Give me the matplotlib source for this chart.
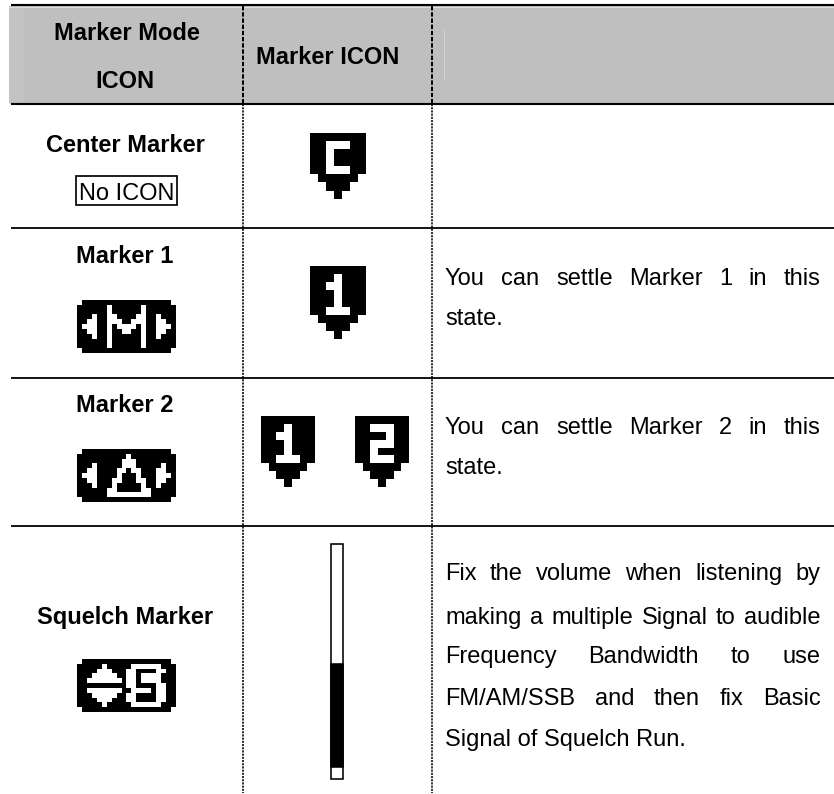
import matplotlib
matplotlib.use("Agg")
import matplotlib.pyplot as plt
from matplotlib.patches import Rectangle
import numpy as np

W, H = 834, 794
BODY_SIZE = 17.0
BOLD_SIZE = 17.0
FONT = "Liberation Sans"

# ---- table layout values ----
header_rows = [5, 104]
row_rules = [228, 378, 526]
col_rules = [243, 432]
header_texts = [("Marker Mode", 127, 40), ("ICON", 125, 88), ("Marker ICON", 327.5, 64)]
mode_titles = [("Center Marker", 125, 152), ("Marker 1", 125, 263),
               ("Marker 2", 125, 412), ("Squelch Marker", 125.5, 624)]
no_icon = "No ICON"
body_paragraphs = [
    (["You can settle Marker 1 in this", "state."], [285, 325]),
    (["You can settle Marker 2 in this", "state."], [434, 474]),
    (["Fix the volume when listening by",
      "making a multiple Signal to audible",
      "Frequency Bandwidth to use",
      "FM/AM/SSB and then fix Basic",
      "Signal of Squelch Run."], [580, 624, 663, 705, 746]),
]

# ---- pixel icons ----
pin_c = ["#######", "##...##", "##.####", "##.####", "##...##", " ##### ", "  ###  ", "   #   "]
pin_1 = ["#######", "###.###", "##..###", "###.###", "###.###", "##...##", " ##### ", "  ###  ", "   #   "]
pin_2 = ["#######", "##...##", "####.##", "##...##", "##.####", "##...##", " ##### ", "  ###  ", "   #   "]
mode_m = [" ################## ",
          "######.######.######",
          "######.######.######",
          "###.##..####..##.###",
          "##..##...##...##..##",
          "#...##.#....#.##...#",
          "##..##.##..##.##..##",
          "###.##.######.##.###",
          "######.######.######",
          "######.######.######",
          " ################## "]
mode_d = [" ################## ",
          "##########.#########",
          "#########...########",
          "###.#####...#####.##",
          "##..####..#..###..##",
          "#...####.###.###...#",
          "##..###..###..##..##",
          "###.###.#####.##.###",
          "######..#####..#####",
          "######.........#####",
          " ################## "]
mode_s = [" ################## ",
          "#####.#####......###",
          "####...###..####..##",
          "###.....##..#....###",
          "##.......#..#....###",
          "##########..####..##",
          "##.......##....#..##",
          "###.....##..####..##",
          "####...###..####..##",
          "#####.#####......###",
          " ################## "]

# (bitmap, left, top, right, bottom)
icons = [(pin_c, 310, 133, 366, 199),
         (pin_1, 310, 266, 366, 339),
         (pin_1, 261, 416, 315, 487),
         (pin_2, 355, 416, 409, 487),
         (mode_m, 77, 300, 176, 353),
         (mode_d, 77, 449, 176, 502),
         (mode_s, 77, 659, 176, 712)]

# squelch bar: outer x, white top, black top, black bottom, bottom
bar_x = (331.5, 343.5)
bar_y = (543.5, 664, 767, 778.5)

fig = plt.figure(figsize=(W / 100, H / 100), dpi=100)
ax = fig.add_axes([0, 0, 1, 1])
ax.set_xlim(0, W)
ax.set_ylim(H, 0)
ax.axis("off")
PX = 0.72

# header band
ax.add_patch(Rectangle((9, 6), W - 9, 97, fc="#bfbfbf", ec="none", zorder=1))
ax.add_patch(Rectangle((9, 6), 15, 96, fc="#c3c3c3", ec="none", zorder=1.1))
ax.plot([444.5, 444.5], [30, 78], color="#d4d4d4", lw=1 * PX, zorder=1.2)
ax.plot([9, W], [6.6, 6.6], color="#dcdcdc", lw=1 * PX, zorder=1.2)
ax.plot([9, W], [102.5, 102.5], color="#dcdcdc", lw=1 * PX, zorder=1.2)

# rules
for y in header_rows:
    ax.plot([11, W], [y, y], color="black", lw=2.1 * PX, solid_capstyle="butt", zorder=3)
for y in row_rules:
    ax.plot([11, W], [y, y], color="black", lw=1.8 * PX, solid_capstyle="butt", zorder=3)
for x in col_rules:
    ax.plot([x, x], [6, 104], color="black", lw=2.0 * PX, ls=(0, (2.2, 0.9)), zorder=4)
    ax.plot([x, x], [104, 793], color="black", lw=1.6 * PX, ls=(0, (1.3, 0.7)), zorder=4)

# icons
for bmp, l, t, r, b in icons:
    arr = np.array([[0.0 if ch == "#" else 1.0 for ch in row.ljust(len(bmp[0]))] for row in bmp])
    ax.imshow(arr, cmap="gray", vmin=0, vmax=1, extent=(l, r, b, t), aspect="auto",
              interpolation="nearest", zorder=2)
ax.set_xlim(0, W)
ax.set_ylim(H, 0)

# squelch bar
xl, xr = bar_x
ax.add_patch(Rectangle((xl, bar_y[0]), xr - xl, bar_y[3] - bar_y[0], fc="white", ec="black",
                       lw=1.6 * PX, zorder=2))
ax.add_patch(Rectangle((xl, bar_y[1]), xr - xl, bar_y[2] - bar_y[1], fc="black", ec="black",
                       lw=1.6 * PX, zorder=2.1))

# text
for s, x, y in header_texts + mode_titles:
    ax.text(x, y, s, family=FONT, fontsize=BOLD_SIZE, fontweight="bold", ha="center",
            va="baseline", color="black", zorder=5)
ax.text(126.5, 200.5, no_icon, family=FONT, fontsize=BODY_SIZE, ha="center", va="baseline",
        color="black", zorder=5)
ax.add_patch(Rectangle((76.5, 175.5), 100.5, 29, fc="none", ec="black", lw=1.7 * PX, zorder=5))

# justified body text
fig.canvas.draw()
rend = fig.canvas.get_renderer()
LEFT, RIGHT = 445, 820.5


def width(s):
    t = ax.text(0, 0, s, family=FONT, fontsize=BODY_SIZE)
    w = t.get_window_extent(rend).width
    t.remove()
    return w


for lines, ys in body_paragraphs:
    for i, (line, y) in enumerate(zip(lines, ys)):
        words = line.split(" ")
        if i == len(lines) - 1:
            ax.text(LEFT, y, line, family=FONT, fontsize=BODY_SIZE, va="baseline", color="black", zorder=5)
            continue
        ws = [width(w) for w in words]
        gap = (RIGHT - LEFT - sum(ws)) / (len(words) - 1)
        x = LEFT
        for w, wd in zip(words, ws):
            ax.text(x, y, w, family=FONT, fontsize=BODY_SIZE, va="baseline", color="black", zorder=5)
            x += wd + gap

fig.savefig("out.png", dpi=100, facecolor="white")
